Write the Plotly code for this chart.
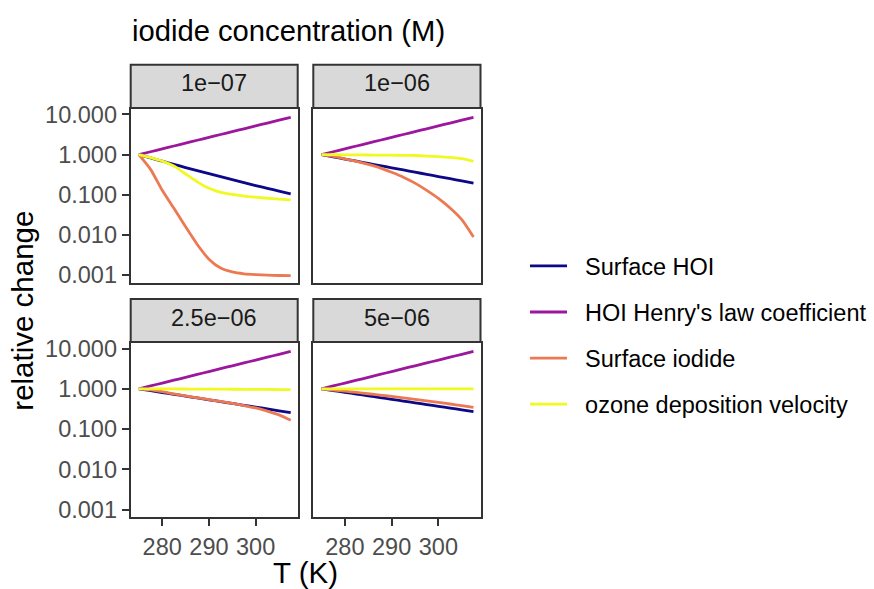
import plotly.graph_objects as go

# ---------------- data ----------------
T_K = [275.0, 277.5, 280.0, 282.5, 285.0, 287.5, 290.0, 292.5, 295.0, 297.5, 300.0, 302.5, 305.0, 307.5]

conc_labels = ["1e\u221207", "1e\u221206", "2.5e\u221206", "5e\u221206"]
series_names = ["Surface HOI", "HOI Henry's law coefficient", "Surface iodide", "ozone deposition velocity"]

# HOI Henry's law coefficient (same in every panel)
henry = [1.00, 1.18, 1.39, 1.64, 1.93, 2.28, 2.69, 3.17, 3.74, 4.40, 5.19, 6.12, 7.22, 8.51]

# 1e-07 M
hoi_1 = [1.000, 0.827, 0.687, 0.571, 0.477, 0.399, 0.335, 0.282, 0.238, 0.201, 0.170, 0.145, 0.124, 0.106]
iod_1 = [1.000, 0.43, 0.13, 0.046, 0.016, 0.0058, 0.0025, 0.0015, 0.00120, 0.00108, 0.00103, 0.00100, 0.00098, 0.00097]
o3_1 = [1.000, 0.84, 0.69, 0.52, 0.33, 0.21, 0.145, 0.115, 0.102, 0.093, 0.087, 0.082, 0.078, 0.075]

# 1e-06 M
hoi_2 = [1.000, 0.882, 0.778, 0.686, 0.605, 0.533, 0.470, 0.415, 0.366, 0.323, 0.284, 0.251, 0.221, 0.195]
iod_2 = [1.000, 0.902, 0.785, 0.676, 0.569, 0.468, 0.363, 0.275, 0.195, 0.129, 0.0813, 0.0468, 0.024, 0.0089]
o3_2 = [1.000, 0.995, 0.99, 0.985, 0.98, 0.975, 0.97, 0.96, 0.95, 0.92, 0.89, 0.85, 0.79, 0.68]

# 2.5e-06 M
hoi_3 = [1.000, 0.901, 0.811, 0.731, 0.658, 0.593, 0.534, 0.481, 0.434, 0.390, 0.352, 0.317, 0.285, 0.257]
iod_3 = [1.000, 0.94, 0.85, 0.75, 0.67, 0.60, 0.54, 0.485, 0.435, 0.385, 0.335, 0.28, 0.225, 0.165]
o3_3 = [1.000, 0.998, 0.995, 0.993, 0.99, 0.988, 0.985, 0.982, 0.978, 0.975, 0.97, 0.965, 0.96, 0.955]

# 5e-06 M
hoi_4 = [1.000, 0.905, 0.819, 0.741, 0.670, 0.606, 0.548, 0.496, 0.449, 0.406, 0.368, 0.333, 0.301, 0.272]
iod_4 = [1.000, 0.936, 0.873, 0.813, 0.755, 0.700, 0.647, 0.596, 0.548, 0.502, 0.460, 0.420, 0.382, 0.347]
o3_4 = [1.000, 1.000, 0.999, 0.999, 0.998, 0.998, 0.997, 0.997, 0.996, 0.996, 0.995, 0.995, 0.994, 0.994]

panel_data = [
    [hoi_1, henry, iod_1, o3_1],
    [hoi_2, henry, iod_2, o3_2],
    [hoi_3, henry, iod_3, o3_3],
    [hoi_4, henry, iod_4, o3_4],
]

y_tickvals = [0.001, 0.01, 0.1, 1, 10]
y_ticktext = ["0.001", "0.010", "0.100", "1.000", "10.000"]
x_tickvals = [280, 290, 300]

# ---------------- style / layout ----------------
colors = ["#0D0887", "#9C179E", "#ED7953", "#F0F921"]
FONT = "Liberation Sans, Arial, Helvetica, sans-serif"
W, H = 874, 589
NBSP = "\u00a0\u00a0"

def px_x(p):
    return p / W

def px_y(p):
    return 1 - p / H

col_x = [(130.7, 297.7), (313.3, 480.5)]
row_plot = [(104.0, 281.7), (343.0, 521.0)]
row_strip = [(59.0, 103.0), (298.0, 342.0)]

fig = go.Figure()

for i, series in enumerate(panel_data):
    ax = "" if i == 0 else str(i + 1)
    for j, vals in enumerate(series):
        fig.add_trace(go.Scatter(
            x=T_K, y=vals, mode="lines",
            name=NBSP + series_names[j], legendgroup=series_names[j],
            showlegend=(i == 0),
            line=dict(color=colors[j], width=2.8, shape="spline", smoothing=0.6),
            xaxis="x" + ax, yaxis="y" + ax,
            hoverinfo="skip",
        ))

layout = dict(
    width=W, height=H,
    margin=dict(l=0, r=0, t=0, b=0),
    paper_bgcolor="white", plot_bgcolor="white",
    font=dict(family=FONT, size=23.5, color="#000000"),
    showlegend=True,
    legend=dict(
        x=px_x(525), y=px_y(335), xanchor="left", yanchor="middle",
        font=dict(family=FONT, size=23.5, color="#000000"),
        tracegroupgap=12.5, itemwidth=37, bgcolor="rgba(0,0,0,0)",
    ),
)

shapes = []
annotations = []
for i in range(4):
    r, c = divmod(i, 2)
    ax = "" if i == 0 else str(i + 1)
    xd = [px_x(col_x[c][0]), px_x(col_x[c][1])]
    yd = [px_y(row_plot[r][1]), px_y(row_plot[r][0])]
    bottom = (r == 1)
    left = (c == 0)
    layout["xaxis" + ax] = dict(
        domain=xd, anchor="y" + ax, range=[273.25, 309.0],
        showgrid=False, zeroline=False,
        showline=True, mirror=True, linecolor="#333333", linewidth=2,
        ticks="outside" if bottom else "", ticklen=7, tickwidth=2, tickcolor="#333333",
        tickvals=x_tickvals, showticklabels=bottom,
        tickfont=dict(family=FONT, size=23.5, color="#4D4D4D"),
    )
    layout["yaxis" + ax] = dict(
        domain=yd, anchor="x" + ax, type="log", range=[-3.195, 1.139],
        showgrid=False, zeroline=False,
        showline=True, mirror=True, linecolor="#333333", linewidth=2,
        ticks="outside" if left else "", ticklen=7, tickwidth=2, tickcolor="#333333",
        tickvals=y_tickvals, ticktext=y_ticktext, showticklabels=left,
        tickfont=dict(family=FONT, size=23.5, color="#4D4D4D"),
    )
    # strip
    shapes.append(dict(
        type="rect", xref="paper", yref="paper",
        x0=xd[0], x1=xd[1], y0=px_y(row_strip[r][1]), y1=px_y(row_strip[r][0]),
        fillcolor="#D9D9D9", line=dict(color="#333333", width=2), layer="above",
    ))
    annotations.append(dict(
        xref="paper", yref="paper",
        x=(xd[0] + xd[1]) / 2, y=px_y((row_strip[r][0] + row_strip[r][1]) / 2 - 3),
        text=conc_labels[i], showarrow=False, xanchor="center", yanchor="middle",
        font=dict(family=FONT, size=23.5, color="#1A1A1A"),
    ))

annotations.append(dict(
    xref="paper", yref="paper", x=px_x(130), y=px_y(24),
    text="iodide concentration (M)", showarrow=False, xanchor="left", yanchor="middle",
    font=dict(family=FONT, size=29.2, color="#000000"),
))
annotations.append(dict(
    xref="paper", yref="paper", x=px_x(305.6), y=px_y(577.5),
    text="T (K)", showarrow=False, xanchor="center", yanchor="middle",
    font=dict(family=FONT, size=29.5, color="#000000"),
))
annotations.append(dict(
    xref="paper", yref="paper", x=px_x(23), y=px_y(310),
    text="relative change", showarrow=False, xanchor="center", yanchor="middle",
    textangle=-90,
    font=dict(family=FONT, size=29.5, color="#000000"),
))

layout["shapes"] = shapes
layout["annotations"] = annotations
fig.update_layout(**layout)

fig.write_html("out.html")
